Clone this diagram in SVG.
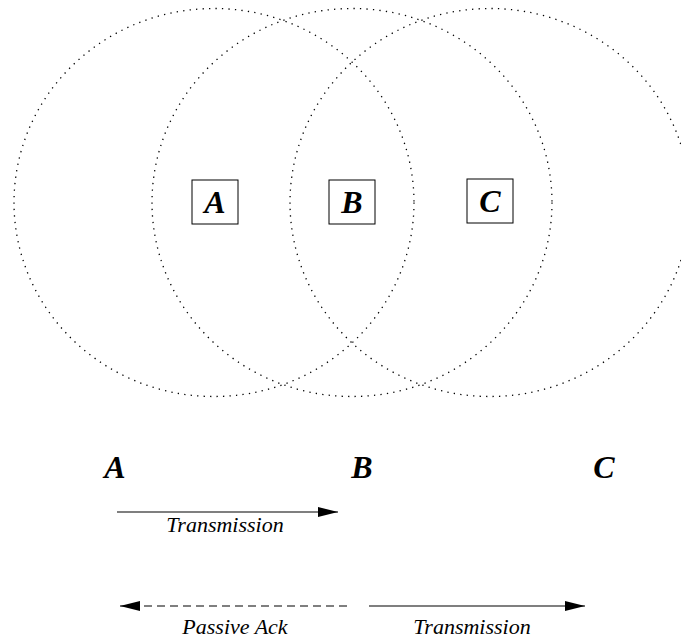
<svg xmlns="http://www.w3.org/2000/svg" width="681" height="640" viewBox="0 0 681 640">
<style>
.range{fill:none;stroke:#000;stroke-width:1.3;stroke-dasharray:1.3 5.2}
.box{fill:#fff;stroke:#000;stroke-width:1}
.big{font-family:"Liberation Serif",serif;font-weight:bold;font-style:italic;font-size:32px;text-anchor:middle}
.lbl{font-family:"Liberation Serif",serif;font-style:italic;font-size:22px;text-anchor:middle}
.ln{stroke:#000;stroke-width:1.2;fill:none}
</style>
<defs>
<marker id="ah" viewBox="0 0 20 10" refX="20" refY="5" markerWidth="20" markerHeight="10" markerUnits="userSpaceOnUse" orient="auto-start-reverse">
<path d="M0,0 L20,5 L0,10 Z" fill="#000"/>
</marker>
</defs>
<rect width="681" height="640" fill="#fff"/>
<g id="ranges">
<ellipse class="range" cx="214" cy="202.5" rx="200" ry="194"/>
<ellipse class="range" cx="352" cy="202.5" rx="200" ry="194"/>
<ellipse class="range" cx="490" cy="202.5" rx="200" ry="194"/>
</g>
<g id="nodeA"><rect class="box" x="192" y="180" width="46" height="44"/><text class="big" x="215" y="213">A</text></g>
<g id="nodeB"><rect class="box" x="329" y="180" width="46" height="44"/><text class="big" x="352" y="213">B</text></g>
<g id="nodeC"><rect class="box" x="467" y="179" width="46" height="44"/><text class="big" x="490" y="212">C</text></g>
<g id="labels">
<text class="big" x="115" y="478">A</text>
<text class="big" x="362" y="478">B</text>
<text class="big" x="604" y="478">C</text>
</g>
<g id="connectors">
<line class="ln" x1="117" y1="512" x2="338" y2="512" marker-end="url(#ah)"/>
<line class="ln" x1="347" y1="606" x2="120" y2="606" stroke-dasharray="8 5" marker-end="url(#ah)"/>
<line class="ln" x1="369" y1="606" x2="585" y2="606" marker-end="url(#ah)"/>
</g>
<g id="edge-labels">
<text class="lbl" x="225" y="532">Transmission</text>
<text class="lbl" x="235" y="634">Passive Ack</text>
<text class="lbl" x="472" y="634">Transmission</text>
</g>
</svg>
